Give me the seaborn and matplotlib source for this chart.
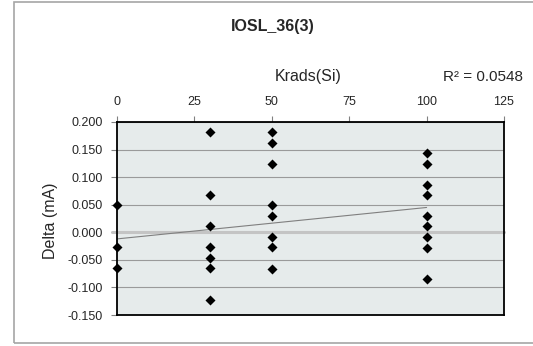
import pandas as pd
import matplotlib
matplotlib.use("Agg")
import matplotlib.pyplot as plt
import seaborn as sns
import numpy as np
from matplotlib.patches import Rectangle

dose_0 = [0.050, -0.027, -0.065]
dose_30 = [0.181, 0.067, 0.011, -0.027, -0.046, -0.065, -0.122]
dose_50 = [0.181, 0.162, 0.124, 0.049, 0.030, -0.008, -0.027, -0.066]
dose_100 = [0.143, 0.124, 0.086, 0.068, 0.030, 0.011, -0.008, -0.029, -0.085]

x_ticks = [0, 25, 50, 75, 100, 125]
y_ticks = [-0.150, -0.100, -0.050, 0.000, 0.050, 0.100, 0.150, 0.200]

# linear trendline as drawn in the chart
trend_x = [0, 100]
trend_intercept = -0.012
trend_slope = 0.00057
r_squared = 0.0548

rows = []
for dose, vals in [(0, dose_0), (30, dose_30), (50, dose_50), (100, dose_100)]:
    for v in vals:
        rows.append({'krads': dose, 'delta': v})
df = pd.DataFrame(rows)

sns.set_style('white')
plt.rcParams['font.family'] = ['Liberation Sans', 'DejaVu Sans']

fig = plt.figure(figsize=(5.33, 3.46), dpi=100)
ax_bottom = 1 - 315/346
ax_height = (315 - 122)/346
ax = fig.add_axes([117/533, ax_bottom, (504-117)/533, ax_height])
ax.set_facecolor('#E6EBEB')

# outer chart border (cut at the right edge)
fig.patches.append(Rectangle((14/533, 1 - 343/346), 1.0, (343-2)/346,
                             transform=fig.transFigure, fill=False,
                             edgecolor='#A6A6A6', lw=1.2, clip_on=False))

# gridlines
for yt in y_ticks:
    if yt != 0:
        ax.axhline(yt, color='#9A9A9A', lw=0.8, zorder=1)
ax.axhline(0, xmin=-0.012, xmax=1, color='#C4C4C4', lw=2.2, zorder=1, clip_on=False)

tx = np.array(trend_x)
ax.plot(tx, trend_intercept + trend_slope*tx, color='#7F7F7F', lw=0.8, zorder=2)

sns.scatterplot(data=df, x='krads', y='delta', marker='D', color='black',
                s=26, edgecolor='black', linewidth=0, ax=ax, zorder=3, clip_on=False)

ax.set_xlim(0, 125)
ax.set_ylim(-0.150, 0.200)
ax.set_xticks(x_ticks)
ax.set_yticks(y_ticks)
ax.set_yticklabels([f'{v:.3f}' for v in y_ticks])
ax.xaxis.tick_top()
ax.xaxis.set_label_position('top')
ax.tick_params(axis='x', direction='out', length=4, width=0.8, color='#808080',
               labelsize=9, pad=6, top=True, bottom=False)
ax.tick_params(axis='y', direction='out', length=4, width=0.8, color='#808080',
               labelsize=9, pad=6, left=True)

for sp in ax.spines.values():
    sp.set_color('black')
    sp.set_linewidth(1.3)

ax.set_xlabel('Krads(Si)', fontsize=11.5)
ax.xaxis.set_label_coords((308-117)/387, ((1 - 76/346) - ax_bottom) / ax_height)
ax.set_ylabel('Delta (mA)', fontsize=11.5)
ax.yaxis.set_label_coords((50-117)/387, 0.49)
for lbl in [ax.xaxis.label, ax.yaxis.label]:
    lbl.set_va('center')

fig.text(273/533, 1 - 27/346, 'IOSL_36(3)', ha='center', va='center',
         fontsize=11.5, fontweight='bold')
fig.text(483/533, 1 - 77/346, f'R² = {r_squared}', ha='center', va='center', fontsize=11)

plt.savefig('out.png', dpi=100)
